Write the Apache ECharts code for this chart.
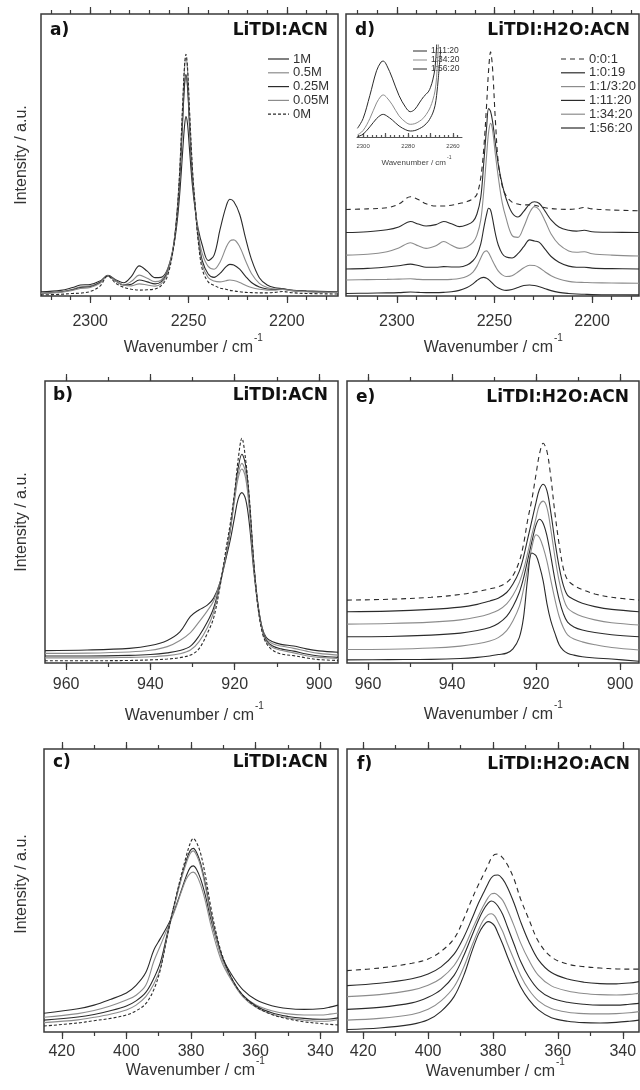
<!DOCTYPE html>
<html lang="en">
<head>
<meta charset="UTF-8">
<title>LiTDI Raman bands</title>
<style>
  html, body { margin: 0; padding: 0; background: #fff; }
  #main { width: 640px; height: 1090px; }
</style>
</head>
<body>
<div id="main"></div>
<script src="https://cdn.jsdelivr.net/npm/echarts@6/dist/echarts.min.js"></script>
<script>
// ---------------- data (intensity in % of panel height) ----------------
var concNames = ['1M', '0.5M', '0.25M', '0.05M', '0M']
var ratioNames = ['0:0:1', '1:0:19', '1:1/3:20', '1:11:20', '1:34:20', '1:56:20']
var insetNames = ['1:11:20', '1:34:20', '1:56:20']

// tick positions / tick labels
var ticksCN = [2180, 2190, 2200, 2210, 2220, 2230, 2240, 2250, 2260, 2270, 2280, 2290, 2300, 2310, 2320]
var labelsCN = [2200, 2250, 2300]
var ticksCS = [900, 910, 920, 930, 940, 950, 960]
var labelsCS = [900, 920, 940, 960]
var ticksDef = [340, 350, 360, 370, 380, 390, 400, 410, 420]
var labelsDef = [340, 360, 380, 400, 420]
var ticksInset = [2258, 2260, 2262, 2264, 2266, 2268, 2270, 2272, 2274, 2276, 2278, 2280, 2282, 2284, 2286, 2288, 2290, 2292, 2294, 2296, 2298, 2300, 2302]
var labelsInset = [2260, 2280, 2300]
var majorInset = [2260, 2270, 2280, 2290, 2300]

// a) LiTDI:ACN, C≡N stretch
var xA = [2325, 2315, 2309, 2305, 2300, 2295, 2291, 2287, 2283, 2279, 2275, 2271, 2267, 2264, 2261, 2258, 2256, 2254.5, 2253, 2252, 2251.3, 2250.5, 2249.5, 2248, 2246.5, 2245, 2243, 2240, 2237, 2234, 2231, 2229, 2227, 2224, 2221, 2218, 2214, 2210, 2206, 2202, 2198, 2190, 2174]
var a1M   = [1.5, 2.0, 3.0, 3.9, 4.1, 5.3, 7.3, 5.8, 4.7, 7.0, 10.7, 8.8, 6.5, 6.6, 9, 16, 25, 36, 51, 60.5, 63.6, 61, 52, 39, 30, 23.5, 18, 12.6, 14.5, 23.5, 31.5, 34.3, 33.5, 29, 20.5, 13, 6.5, 3.9, 2.9, 2.6, 2.1, 1.8, 1.5]
var a05M  = [1.0, 1.5, 2.4, 3.3, 3.6, 5.0, 7.2, 5.5, 3.9, 5.2, 7.4, 6.3, 5.1, 5.6, 8.5, 16.5, 27.5, 41, 61.5, 74.5, 77.5, 73.5, 60.5, 42, 31, 22, 15, 10.5, 9.5, 12, 17, 19.5, 19.9, 17.5, 12.5, 8, 4.5, 3.0, 2.5, 2.5, 2.0, 1.6, 1.4]
var a025M = [1.0, 1.4, 2.2, 3.0, 3.3, 4.8, 7.1, 5.3, 3.9, 4.2, 5.7, 5.0, 4.3, 5.0, 8, 16, 27.5, 41.5, 62.5, 75.5, 78.5, 74.5, 61, 42, 30.5, 20.5, 12.5, 7.8, 6.6, 8, 10.3, 11.2, 11, 9.5, 7, 4.8, 3.2, 2.5, 2.3, 2.4, 2.0, 1.6, 1.3]
var a005M = [1.0, 1.3, 2.0, 2.7, 3.0, 4.5, 7.1, 5.2, 3.9, 3.6, 4.3, 3.9, 3.5, 4.3, 7.5, 16, 28.5, 44, 67, 81, 84.5, 80, 65, 44.5, 31, 20, 11, 6.5, 5.3, 5, 5.4, 5.7, 5.5, 4.8, 3.8, 3.0, 2.4, 2.1, 2.1, 2.3, 1.9, 1.5, 1.2]
var a0M   = [0.4, 0.6, 0.9, 1.0, 1.6, 3.5, 7.1, 4.5, 3.1, 2.4, 2.1, 2.2, 2.5, 3.6, 6.5, 15.5, 28, 44, 67.5, 82, 85.7, 81, 66, 45, 31, 19, 9.5, 5, 3.8, 2.8, 2.4, 2.0, 1.8, 1.5, 1.3, 1.2, 1.1, 1.1, 1.3, 1.6, 1.2, 0.9, 0.7]

// d) LiTDI:H2O:ACN, C≡N stretch
var xD = [2326, 2315, 2305, 2299, 2293, 2289, 2285, 2280, 2276, 2272, 2268, 2264, 2261, 2259, 2257, 2255.5, 2254, 2253, 2252, 2251, 2249.5, 2248, 2246, 2244, 2241, 2238, 2235, 2232, 2229.5, 2227, 2224, 2221, 2217, 2212, 2208, 2204, 2200, 2190, 2176]
var d001   = [30.7, 30.9, 31.3, 32.6, 35.2, 34.2, 32.7, 31.9, 31.9, 32.2, 32.8, 33.5, 34.5, 36, 42, 52, 68, 80, 86.6, 81, 62, 47, 39, 35.5, 33.3, 32.6, 32.3, 32.3, 32.2, 31.8, 31.3, 31, 30.8, 30.7, 30.9, 31.4, 30.9, 30.5, 30.2]
var d1019  = [22.5, 22.8, 23.5, 24.5, 26.4, 25.5, 24.8, 25.3, 26.4, 25.6, 24.6, 25.3, 26.5, 29, 35, 47, 60, 66.5, 65.5, 62, 54, 46.5, 39.5, 34.5, 29.5, 28, 30, 32.6, 33.4, 32.8, 30, 27, 24.5, 23.3, 23, 23.3, 22.8, 22.6, 22.5]
var d1320  = [14.5, 14.8, 15.7, 17, 18.9, 17.8, 16.9, 17.8, 19.3, 18, 16.9, 17.5, 19, 21.5, 27, 37, 50, 58, 61.2, 59, 50, 42, 33, 27.5, 21.5, 20.8, 24.5, 29.5, 31.7, 30.5, 26.5, 22, 18.3, 16, 15.5, 15.7, 15, 14.5, 14.2]
var d11120 = [9.6, 9.8, 10.3, 10.7, 11.3, 10.8, 10.2, 10.2, 10.4, 10.3, 10.3, 11, 12.5, 14.5, 18.5, 24, 29, 31.1, 30.5, 27.5, 22, 18, 15, 13.8, 13.5, 15, 17.5, 19.9, 19.5, 19, 16.5, 14, 12, 10.6, 10.2, 10.2, 9.9, 9.7, 9.6]
var d13420 = [5.7, 5.8, 5.9, 6.0, 6.1, 5.9, 5.8, 5.8, 5.8, 5.9, 6.2, 7, 8.5, 10.5, 13.5, 15.5, 16, 15.3, 14, 12.5, 10.5, 8.8, 7.5, 6.9, 7.2, 8.5, 10, 10.9, 10.8, 10, 8.5, 7.2, 6, 5.2, 4.9, 4.8, 4.7, 4.6, 4.5]
var d15620 = [0.9, 1.0, 1.1, 1.2, 1.4, 1.3, 1.2, 1.2, 1.3, 1.5, 2.0, 3.0, 4.3, 5.5, 6.4, 6.6, 6.3, 5.8, 5.2, 4.5, 3.5, 2.8, 2.2, 2.0, 2.3, 3.0, 3.7, 3.9, 3.7, 3.3, 2.6, 1.9, 1.3, 0.9, 0.7, 0.6, 0.5, 0.45, 0.4]

// inset of d)
var xIn = [2302.5, 2300, 2297, 2294, 2292, 2291, 2289.5, 2287, 2284, 2281, 2279, 2277, 2275, 2273, 2271, 2270, 2269, 2268, 2267.3, 2266.5, 2265.5]
var in11120 = [9.4, 20, 45, 72, 81.5, 82.5, 78, 64, 45, 32, 27.5, 30, 37, 44, 49, 54, 62, 75, 98, 125, 140]
var in13420 = [2.2, 7, 20, 37, 44.5, 45.7, 43, 35, 23, 16, 13.8, 14.5, 17, 21, 28, 33, 40, 50, 65, 98, 125]
var in15620 = [0.4, 3, 11, 20, 24, 24.6, 23, 18.5, 12, 7.8, 6.5, 7, 9, 12, 17, 21, 26, 34, 45, 65, 94.5]

// b) LiTDI:ACN, C-S / C-C band
var xB = [965, 955, 945, 940, 936, 933, 930.5, 928.5, 926.5, 925, 923.5, 922, 921, 920, 919.2, 918.3, 917.4, 916.5, 915.5, 914.5, 913.5, 912.5, 911, 909, 906, 903, 900, 895.5]
var b1M   = [4.4, 4.6, 5.2, 6.2, 8, 11, 16.5, 18.8, 20.5, 23, 28.5, 37.5, 44, 52, 58, 60.4, 58, 49, 33, 20.5, 12.5, 9, 7.5, 6.6, 6, 5, 4.3, 3.8]
var b05M  = [3.4, 3.5, 3.9, 4.5, 5.8, 8, 10.8, 14.5, 18.5, 22, 28.5, 39, 47.5, 58, 65.5, 68.8, 65.5, 54, 35, 21, 12.5, 8.5, 6.8, 6, 5.2, 4.2, 3.4, 2.8]
var b025M = [2.5, 2.5, 2.7, 3.0, 3.6, 4.4, 6.0, 9.5, 14.5, 19.5, 28, 39, 48, 60, 69, 74, 70, 57, 36, 21, 12, 8, 6, 5, 4.2, 3.2, 2.5, 2.0]
var b005M = [1.8, 1.8, 2.0, 2.2, 2.6, 3.3, 4.6, 7.5, 12.5, 18, 27.5, 39, 48, 59, 67, 70.8, 67.5, 55, 35, 20, 11.5, 7.5, 5.5, 4.5, 3.6, 2.6, 2.0, 1.6]
var b0M   = [0.8, 0.8, 0.9, 1.1, 1.4, 1.9, 2.8, 5, 10.5, 16, 27, 41, 50, 61, 72, 79.7, 72, 58, 36, 20, 11, 7, 4.5, 3.2, 2.6, 1.8, 1.2, 0.9]

// e) LiTDI:H2O:ACN, C-S / C-C band
var xE = [965, 955, 945, 938, 934, 931, 929, 927, 925.5, 924, 923, 922, 921, 920, 919.2, 918.3, 917.4, 916.5, 915.5, 914.5, 913.5, 912.5, 911, 909, 906, 902, 895.5]
var e001   = [22.3, 22.6, 23.3, 24.3, 25.3, 26.3, 27, 28.5, 31, 36, 42, 50.7, 58, 67, 74, 77.9, 75, 66, 53, 42, 33.5, 29.5, 27.5, 26, 24.5, 23.3, 22.3]
var e1019  = [18.2, 18.4, 19, 19.8, 20.8, 22, 23, 25, 28, 32.5, 37.5, 44, 50.5, 57, 61.5, 63.4, 61, 53.5, 43, 34, 27.5, 24, 22.5, 21.2, 20, 19, 18.2]
var e1320  = [13.8, 14, 14.5, 15.3, 16.3, 17.5, 18.7, 21, 24, 28.5, 33, 39, 45.5, 51.5, 56, 57.4, 55, 47.5, 37.5, 29, 23, 19.5, 17.8, 16.5, 15.3, 14.3, 13.5]
var e11120 = [9.3, 9.4, 9.9, 10.6, 11.5, 12.6, 14, 16.5, 20, 25, 30, 36.5, 43, 49, 51, 49.5, 45, 38, 29.5, 22.5, 17.5, 14.5, 12.8, 11.7, 10.8, 10, 9.3]
var e13420 = [4.8, 4.9, 5.3, 6, 6.8, 7.8, 9, 11.5, 15, 20, 26, 33.5, 41, 45.5, 44.5, 41, 36, 29.5, 22.5, 16.5, 12.5, 10, 8.5, 7.5, 6.5, 5.5, 4.6]
var e15620 = [1.1, 1.2, 1.3, 1.6, 2.0, 2.5, 3.0, 3.5, 5, 9, 16, 30, 39, 38, 34.5, 29, 21, 15, 10.5, 6.5, 4.5, 3.5, 2.8, 2.2, 1.8, 1.4, 0.6]

// c) LiTDI:ACN, deformation band
var xC = [425.5, 415, 410, 405, 400, 397, 394, 391.5, 389.5, 387.5, 386, 384.5, 383, 381.5, 380.3, 379.3, 378.3, 377, 375.5, 374, 372, 370, 367, 364, 360, 355, 350, 345, 340, 337, 334.5]
var c1M   = [6.6, 8.2, 9.5, 11.5, 13.8, 16.5, 21, 29, 33, 37, 40.5, 45, 50, 55, 58, 58.7, 57.5, 54, 48, 40.5, 32, 25.5, 19.5, 15, 11.5, 9.3, 8.3, 8.0, 8.2, 8.8, 9.5]
var c05M  = [5.2, 6.5, 7.6, 9.2, 11.3, 13, 16.5, 25, 30.5, 36, 40, 44.5, 49.5, 54, 56, 56.5, 55.5, 52, 46, 38.5, 30, 23.5, 17.5, 13, 9.6, 7.5, 6.4, 6.0, 6.0, 6.3, 6.7]
var c025M = [4.2, 5.3, 6.2, 7.5, 9.2, 11, 14, 19, 24.5, 34, 41, 48, 54.5, 60.5, 64, 64.9, 63.5, 59.5, 52, 43, 33, 25.5, 18, 13, 9.3, 6.8, 5.5, 4.8, 4.5, 4.6, 5.0]
var c005M = [3.3, 4.3, 5.2, 6.3, 7.8, 9.5, 12.5, 17, 22.5, 33, 40.5, 47.5, 54, 59.5, 63, 64, 62.5, 58.5, 51, 42, 32, 24.5, 17.5, 12.5, 8.8, 6.3, 5.0, 4.2, 3.8, 3.9, 4.4]
var c0M   = [2.1, 3.2, 4.0, 4.8, 6.0, 7.5, 10, 15, 22, 33, 41, 48.5, 55.5, 62, 66.5, 68.4, 67, 63, 55, 45, 34, 26, 18, 13, 9, 6.2, 4.6, 3.6, 3.0, 2.7, 2.5]

// f) LiTDI:H2O:ACN, deformation band
var xF = [425, 415, 405, 400, 396, 392, 389, 386.5, 384.5, 383, 381.5, 380.5, 379.5, 378.5, 377, 375.5, 373.5, 371.5, 369, 366, 362, 357, 352, 347, 342, 338, 335]
var f001   = [21.7, 22.6, 24.3, 25.8, 28.5, 33, 40, 47, 52, 55.5, 59, 61.5, 62.7, 62.9, 61.5, 59, 54, 47, 40, 32, 26.5, 24, 23.1, 22.6, 22.3, 22.2, 22.2]
var f1019  = [16.4, 17.2, 18.8, 20.5, 23, 27.5, 33.5, 40, 45.5, 49, 52.5, 54.5, 55.4, 55.5, 54, 51, 45.5, 39, 32, 25.5, 21, 18.7, 17.6, 17.1, 17, 17.3, 17.8]
var f1320  = [12.5, 13.2, 14.8, 16.5, 19, 23.5, 29.5, 36, 41, 44.5, 47.5, 48.8, 49, 48.3, 46.5, 43, 37.5, 31.5, 25.5, 20, 16.3, 14.5, 13.6, 13.2, 13.1, 13.3, 13.7]
var f11120 = [8, 8.7, 10.3, 12.3, 15, 20, 27, 34, 39.5, 43, 45.5, 46.3, 45.8, 44.5, 41.5, 37, 31, 25, 19.5, 15, 12, 10.5, 9.8, 9.5, 9.5, 9.8, 10.1]
var f13420 = [4.2, 4.8, 6.2, 8, 11, 16, 23, 30.5, 36, 39.5, 41.5, 41.8, 41, 39, 35.5, 31, 25.5, 20, 15, 11, 8.3, 7, 6.5, 6.4, 6.5, 6.8, 7.2]
var f15620 = [0.9, 1.4, 2.7, 4.3, 7.3, 12.5, 20, 28.5, 34.5, 37.5, 39, 38.6, 37.5, 35, 31, 26.5, 21, 16, 11.5, 7.8, 5, 3.8, 3.3, 3.2, 3.4, 3.8, 4.2]

// ---------------- styles & layout ----------------
var FONT = 'Liberation Sans, Arial, sans-serif'
var BOLD = 'DejaVu Sans, sans-serif'
var INK = '#333'
var FRAME = '#3a3a3a'
var BLACK = '#2b2b2b'
var GREY = '#8c8c8c'
var DOTS = [3, 2]
var DASH = [5, 4]

var panels = [
  { left: 41, top: 14, width: 297, height: 282, min: 2174, max: 2325, ticks: ticksCN, labels: labelsCN, margin: 18,
    tag: 'a)', title: 'LiTDI:ACN', tagX: 50, titleX: 328, textY: 31, nameY: 348, nameEnd: 253, yNameY: 155,
    lines: [[concNames[0], xA, a1M, BLACK], [concNames[1], xA, a05M, GREY], [concNames[2], xA, a025M, BLACK],
            [concNames[3], xA, a005M, GREY], [concNames[4], xA, a0M, BLACK, DOTS]],
    legend: { x: 268, y: 59, len: 21 } },
  { left: 346, top: 14, width: 293, height: 282, min: 2176, max: 2326, ticks: ticksCN, labels: labelsCN, margin: 17.5,
    tag: 'd)', title: 'LiTDI:H2O:ACN', tagX: 355, titleX: 630, textY: 31, nameY: 348, nameEnd: 553,
    lines: [[ratioNames[0], xD, d001, BLACK, DASH], [ratioNames[1], xD, d1019, BLACK], [ratioNames[2], xD, d1320, GREY],
            [ratioNames[3], xD, d11120, BLACK], [ratioNames[4], xD, d13420, GREY], [ratioNames[5], xD, d15620, BLACK]],
    legend: { x: 561, y: 59, len: 24 } },
  { left: 45, top: 381, width: 293, height: 282, min: 895.5, max: 965, ticks: ticksCS, labels: labelsCS, margin: 14,
    tag: 'b)', title: 'LiTDI:ACN', tagX: 53, titleX: 328, textY: 396, nameY: 716, nameEnd: 254, yNameY: 522,
    lines: [[concNames[0], xB, b1M, BLACK], [concNames[1], xB, b05M, GREY], [concNames[2], xB, b025M, BLACK],
            [concNames[3], xB, b005M, GREY], [concNames[4], xB, b0M, BLACK, DOTS]] },
  { left: 347, top: 381, width: 292, height: 282, min: 895.5, max: 965, ticks: ticksCS, labels: labelsCS, margin: 14,
    tag: 'e)', title: 'LiTDI:H2O:ACN', tagX: 356, titleX: 629, textY: 398, nameY: 715, nameEnd: 553,
    lines: [[ratioNames[0], xE, e001, BLACK, DASH], [ratioNames[1], xE, e1019, BLACK], [ratioNames[2], xE, e1320, GREY],
            [ratioNames[3], xE, e11120, BLACK], [ratioNames[4], xE, e13420, GREY], [ratioNames[5], xE, e15620, BLACK]] },
  { left: 44, top: 749, width: 294, height: 283, min: 334.5, max: 425.5, ticks: ticksDef, labels: labelsDef, margin: 12,
    tag: 'c)', title: 'LiTDI:ACN', tagX: 53, titleX: 328, textY: 763, nameY: 1071, nameEnd: 255, yNameY: 884,
    lines: [[concNames[0], xC, c1M, BLACK], [concNames[1], xC, c05M, GREY], [concNames[2], xC, c025M, BLACK],
            [concNames[3], xC, c005M, GREY], [concNames[4], xC, c0M, BLACK, DOTS]] },
  { left: 347, top: 749, width: 292, height: 283, min: 335, max: 425, ticks: ticksDef, labels: labelsDef, margin: 12,
    tag: 'f)', title: 'LiTDI:H2O:ACN', tagX: 357, titleX: 630, textY: 765, nameY: 1072, nameEnd: 555,
    lines: [[ratioNames[0], xF, f001, BLACK, DASH], [ratioNames[1], xF, f1019, BLACK], [ratioNames[2], xF, f1320, GREY],
            [ratioNames[3], xF, f11120, BLACK], [ratioNames[4], xF, f13420, GREY], [ratioNames[5], xF, f15620, BLACK]] }
]

function pairs(xs, ys) {
  return xs.map(function (x, i) { return [x, ys[i]] })
}

function plain(v) { return String(v) }

function xAxis(grid, pos, p, vals, len, labelOpt, inside, color) {
  return {
    type: 'value', gridIndex: grid, position: pos, min: p.min, max: p.max, inverse: true,
    axisLine: { show: false }, splitLine: { show: false },
    axisTick: { show: true, inside: !!inside, length: len, customValues: vals,
                lineStyle: { color: color || FRAME, width: 1.2 } },
    axisLabel: labelOpt ? Object.assign({ show: true, customValues: vals, formatter: plain }, labelOpt) : { show: false }
  }
}

function text(x, y, str, size, opts) {
  opts = opts || {}
  return {
    type: 'text', x: x, y: y, rotation: opts.rotation || 0, silent: true, z: 100,
    style: {
      text: str, fontSize: size, fontFamily: opts.family || FONT, fontWeight: opts.weight || 'normal',
      fill: opts.color || INK, align: opts.align || 'center', verticalAlign: 'middle',
      textAlign: opts.align || 'center', textVerticalAlign: 'middle'
    }
  }
}

// legend rows drawn as short line samples + labels
function legendRows(x, y, len, step, size, lines, width) {
  lines.forEach(function (l, i) {
    var yy = y + i * step
    graphics.push({ type: 'line', silent: true, z: 100,
      shape: { x1: x, y1: yy, x2: x + len, y2: yy },
      style: { stroke: l[3], lineWidth: width, lineDash: l[4] || null } })
    graphics.push(text(x + len + 4, yy, l[0], size, { align: 'left' }))
  })
}

var grids = [], xAxes = [], yAxes = [], series = [], graphics = []

panels.forEach(function (p) {
  var g = grids.length
  grids.push({ left: p.left, top: p.top, width: p.width, height: p.height, show: true,
               borderColor: FRAME, borderWidth: 1.5, backgroundColor: 'transparent' })
  grids.push({ left: p.left, top: p.top, width: p.width, height: p.height, show: false })
  var xi = xAxes.length
  xAxes.push(xAxis(g, 'bottom', p, p.labels, 7, { margin: p.margin, fontSize: 16, color: INK, fontFamily: FONT }))
  xAxes.push(xAxis(g, 'top', p, p.labels, 7))
  xAxes.push(xAxis(g + 1, 'bottom', p, p.ticks, 4))
  xAxes.push(xAxis(g + 1, 'top', p, p.ticks, 4))
  var yi = yAxes.length
  yAxes.push({ type: 'value', gridIndex: g, min: 0, max: 100, show: false })
  yAxes.push({ type: 'value', gridIndex: g + 1, min: 0, max: 100, show: false })

  p.lines.forEach(function (l) {
    series.push({
      name: l[0], type: 'line', xAxisIndex: xi, yAxisIndex: yi, data: pairs(l[1], l[2]),
      symbol: 'none', showSymbol: false, smooth: 0.35, silent: true,
      lineStyle: { color: l[3], width: 1.1, type: l[4] || 'solid' },
      itemStyle: { color: l[3] }
    })
  })

  graphics.push(text(p.tagX, p.textY, p.tag, 17, { family: BOLD, weight: 'bold', align: 'left', color: '#111' }))
  graphics.push(text(p.titleX, p.textY, p.title, 17, { family: BOLD, weight: 'bold', align: 'right', color: '#111' }))
  graphics.push(text(p.nameEnd, p.nameY, 'Wavenumber / cm', 16, { align: 'right' }))
  graphics.push(text(p.nameEnd + 1, p.nameY - 10, '-1', 10, { align: 'left' }))
  if (p.yNameY) graphics.push(text(22, p.yNameY, 'Intensity / a.u.', 16, { rotation: Math.PI / 2 }))
  if (p.legend) {
    var order = p.lines[0][4] ? p.lines : p.lines
    legendRows(p.legend.x, p.legend.y, p.legend.len, 13.8, 13, order, 1.2)
  }
})

// inset inside d)
var inset = { min: 2256, max: 2302.7 }
var gi = grids.length
grids.push({ left: 357, top: 45, width: 105, height: 92, show: false })
grids.push({ left: 357, top: 45, width: 105, height: 92, show: false })
var xiIn = xAxes.length
var inAxis = xAxis(gi, 'bottom', inset, majorInset, 4, null, true, '#555')
inAxis.axisLine = { show: true, lineStyle: { color: '#555', width: 1 } }
inAxis.axisLabel = { show: true, customValues: labelsInset, formatter: plain, margin: 6, fontSize: 6, color: '#444', fontFamily: FONT }
xAxes.push(inAxis)
xAxes.push(xAxis(gi + 1, 'bottom', inset, ticksInset, 2, null, true, '#555'))
var yiIn = yAxes.length
yAxes.push({ type: 'value', gridIndex: gi, min: 0, max: 100, show: false })
yAxes.push({ type: 'value', gridIndex: gi + 1, min: 0, max: 100, show: false })
var insetLines = [[insetNames[0], xIn, in11120, BLACK], [insetNames[1], xIn, in13420, GREY], [insetNames[2], xIn, in15620, BLACK]]
insetLines.forEach(function (l) {
  series.push({
    name: l[0], type: 'line', xAxisIndex: xiIn, yAxisIndex: yiIn, data: pairs(l[1], l[2]),
    symbol: 'none', showSymbol: false, smooth: 0.35, silent: true, clip: true,
    lineStyle: { color: l[3], width: 1 }, itemStyle: { color: l[3] }
  })
})
graphics.push(text(446, 163, 'Wavenumber / cm', 8, { align: 'right', color: '#444' }))
graphics.push(text(447, 158, '-1', 5, { align: 'left', color: '#444' }))
legendRows(413, 51, 14, 9, 8.5, insetLines, 1)

var chart = echarts.init(document.getElementById('main'))
chart.setOption({
  animation: false,
  backgroundColor: '#fff',
  grid: grids,
  xAxis: xAxes,
  yAxis: yAxes,
  graphic: graphics,
  series: series
})
</script>
</body>
</html>
